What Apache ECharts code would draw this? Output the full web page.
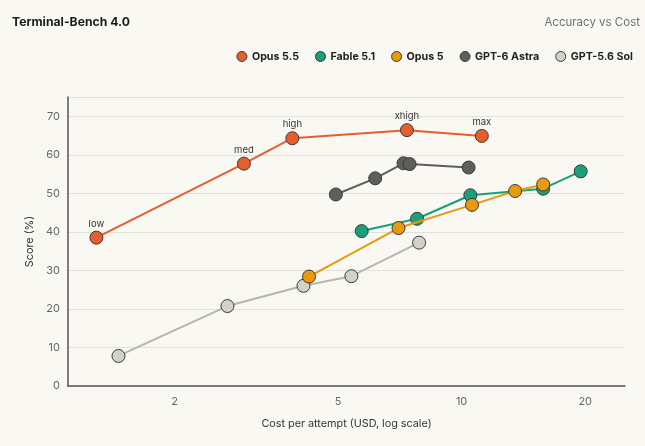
<!DOCTYPE html>
<html>
<head>
<meta charset="utf-8">
<script src="https://cdn.jsdelivr.net/npm/echarts@6/dist/echarts.min.js"></script>
<style>
  html, body { margin: 0; padding: 0; background: #f9f8f3; }
  #chart { width: 645px; height: 446px; }
</style>
</head>
<body>
<div id="chart"></div>
<script>
// 데이터: 비용(USD) / 점수(%)
var seriesNames = ['Opus 5.5', 'Fable 5.1', 'Opus 5', 'GPT-6 Astra', 'GPT-5.6 Sol'];
var effortLabels = ['low', 'med', 'high', 'xhigh', 'max'];
var xTicks = [2, 5, 10, 20];

var opus55Cost = [1.29, 2.95, 3.87, 7.36, 11.2];
var opus55Score = [38.5, 57.7, 64.3, 66.4, 64.9];

var fableCost = [5.71, 7.79, 10.5, 15.8, 19.5];
var fableScore = [40.2, 43.4, 49.5, 51.2, 55.7];

var opus5Cost = [4.25, 7.02, 10.6, 13.5, 15.8];
var opus5Score = [28.4, 41.0, 47.0, 50.6, 52.3];

var astraCost = [4.94, 6.16, 7.22, 7.47, 10.4];
var astraScore = [49.7, 53.9, 57.8, 57.6, 56.7];

var solCost = [1.46, 2.69, 4.12, 5.39, 7.88];
var solScore = [7.8, 20.75, 26.0, 28.5, 37.2];

var fontFamily = 'Inter, "Noto Sans", sans-serif';

function pairs(xs, ys) {
  return xs.map(function (x, i) { return [x, ys[i]]; });
}

function makeSeries(name, xs, ys, fill, line, z, withLabels) {
  return {
    name: name,
    type: 'line',
    z: z,
    data: pairs(xs, ys),
    symbol: 'circle',
    symbolSize: 13,
    lineStyle: { color: line, width: 2 },
    itemStyle: { color: fill, borderColor: '#3a3a38', borderWidth: 1 },
    emphasis: { disabled: true },
    label: withLabels ? {
      show: true,
      position: 'top',
      distance: 2,
      color: '#333',
      fontSize: 9.5,
      fontFamily: fontFamily,
      formatter: function (p) { return effortLabels[p.dataIndex]; }
    } : { show: false }
  };
}

var myChart = echarts.init(document.getElementById('chart'));

var option = {
  backgroundColor: '#f9f8f3',
  animation: false,
  title: [
    {
      text: 'Terminal-Bench 4.0',
      left: 7,
      top: 11,
      textStyle: { fontSize: 12.2, fontWeight: 'bold', color: '#1c1c1a', fontFamily: fontFamily }
    },
    {
      text: 'Accuracy vs Cost',
      right: 0,
      top: 12,
      textStyle: { fontSize: 11.5, fontWeight: 'normal', color: '#707070', fontFamily: fontFamily }
    }
  ],
  legend: {
    data: seriesNames,
    right: 7,
    top: 46,
    icon: 'circle',
    itemWidth: 10,
    itemHeight: 10,
    itemGap: 16,
    itemStyle: { borderColor: '#3a3a38', borderWidth: 1 },
    textStyle: { fontSize: 10.7, fontWeight: 'bold', color: '#222', fontFamily: fontFamily }
  },
  grid: {
    left: 68,
    right: 20,
    top: 97,
    bottom: 60
  },
  xAxis: {
    type: 'log',
    logBase: 10,
    min: 1.1,
    max: 25,
    name: 'Cost per attempt (USD, log scale)',
    nameLocation: 'middle',
    nameGap: 32,
    nameTextStyle: { fontSize: 10.8, color: '#333', fontFamily: fontFamily },
    axisLine: { lineStyle: { color: '#555', width: 1.5 } },
    axisTick: { show: false },
    splitLine: { show: false },
    minorSplitLine: { show: false },
    axisLabel: {
      customValues: xTicks,
      color: '#666',
      fontSize: 11,
      margin: 10,
      fontFamily: fontFamily
    }
  },
  yAxis: {
    type: 'value',
    min: 0,
    max: 75,
    interval: 10,
    name: 'Score (%)',
    nameLocation: 'middle',
    nameGap: 33,
    nameTextStyle: { fontSize: 10.8, color: '#333', fontFamily: fontFamily },
    axisLine: { show: true, lineStyle: { color: '#555', width: 1.5 } },
    axisTick: { show: false },
    splitLine: { lineStyle: { color: '#e3e1da', width: 1.2 } },
    axisLabel: {
      color: '#666',
      fontSize: 11,
      margin: 8,
      fontFamily: fontFamily,
      formatter: function (v) { return v > 70 ? '' : v; }
    }
  },
  series: [
    makeSeries('Opus 5.5', opus55Cost, opus55Score, '#e55f2e', '#e55f2e', 6, true),
    makeSeries('Fable 5.1', fableCost, fableScore, '#1a9f78', '#1a9f78', 4, false),
    makeSeries('Opus 5', opus5Cost, opus5Score, '#e99a0c', '#e99a0c', 5, false),
    makeSeries('GPT-6 Astra', astraCost, astraScore, '#5f5e5a', '#5f5e5a', 3, false),
    makeSeries('GPT-5.6 Sol', solCost, solScore, '#d3d1c9', '#b7b5ad', 2, false)
  ]
};

myChart.setOption(option);
</script>
</body>
</html>
